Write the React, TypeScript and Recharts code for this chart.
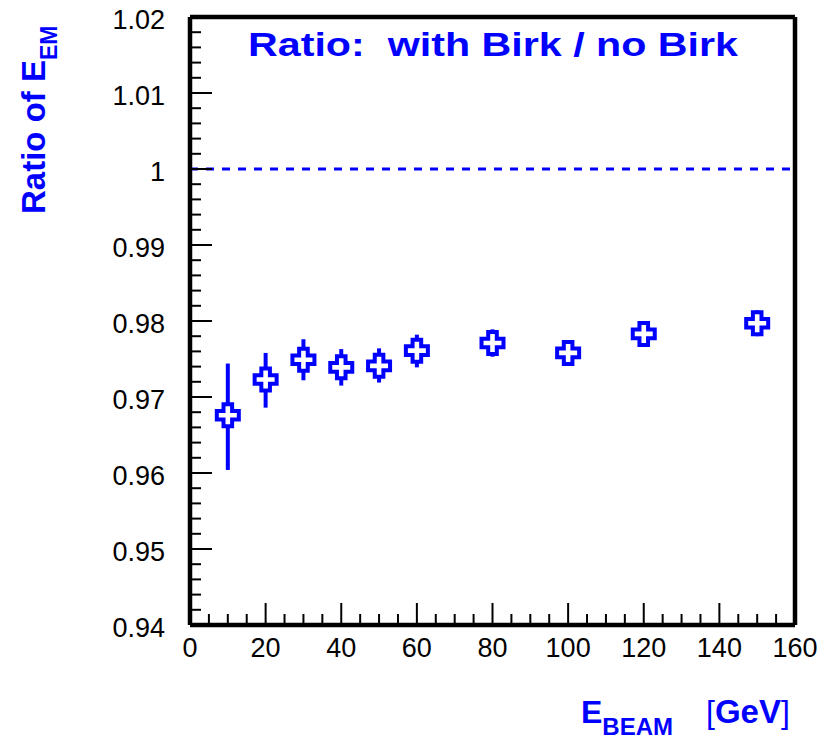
import React from 'react';
import { ScatterChart, Scatter, XAxis, YAxis, ErrorBar, ReferenceLine } from 'recharts';

const energies = [10, 20, 30, 40, 50, 60, 80, 100, 120, 150];
const ratios = [0.9676, 0.9723, 0.9749, 0.9739, 0.9741, 0.9761, 0.9771, 0.9758, 0.9783, 0.9797];
const errLow = [0.0072, 0.0037, 0.0027, 0.0024, 0.0022, 0.0022, 0.0018, 0.0017, 0.0017, 0.0017];
const errHigh = [0.0068, 0.0035, 0.0027, 0.0024, 0.0023, 0.0021, 0.0018, 0.0017, 0.0017, 0.0017];

const xTicks = Array.from({ length: 33 }, (_, i) => i * 5);
const yTicks = Array.from({ length: 41 }, (_, i) => +(0.94 + i * 0.002).toFixed(3));
const yLabels: Record<string, string> = {
  '0.94': '0.94', '0.95': '0.95', '0.96': '0.96', '0.97': '0.97', '0.98': '0.98',
  '0.99': '0.99', '1': '1', '1.01': '1.01', '1.02': '1.02',
};

const BLUE = '#0000ff';
const FONT = '"Liberation Sans", Arial, Helvetica, sans-serif';

const data = energies.map((e, i) => ({
  x: e,
  y: ratios[i],
  err: [errLow[i], errHigh[i]],
}));

const XTick = (props: any) => {
  const { x, y, payload } = props;
  const v = payload.value;
  const major = v % 20 === 0;
  return (
    <g>
      {v > 0 && v < 160 && (
        <line x1={x} x2={x} y1={y} y2={y - (major ? 22 : 11)} stroke="#000" strokeWidth={2} />
      )}
      {major && (
        <text x={x} y={y + 32} textAnchor="middle" fontSize={27} fontFamily={FONT} fill="#000">
          {v}
        </text>
      )}
    </g>
  );
};

const YTick = (props: any) => {
  const { x, y, payload } = props;
  const v = +payload.value.toFixed(3);
  const label = yLabels[String(v)];
  return (
    <g>
      {v > 0.94 && v < 1.02 && (
        <line x1={x} x2={x + (label ? 22 : 11)} y1={y} y2={y} stroke="#000" strokeWidth={2} />
      )}
      {label && (
        <text x={x - 25} y={y + 12} textAnchor="end" fontSize={27} fontFamily={FONT} fill="#000">
          {label}
        </text>
      )}
    </g>
  );
};

const Cross = (props: any) => {
  const { cx, cy } = props;
  const a = 11;
  const b = 4.3;
  const d = `M${cx - b},${cy - a}L${cx + b},${cy - a}L${cx + b},${cy - b}L${cx + a},${cy - b}L${cx + a},${cy + b}L${cx + b},${cy + b}L${cx + b},${cy + a}L${cx - b},${cy + a}L${cx - b},${cy + b}L${cx - a},${cy + b}L${cx - a},${cy - b}L${cx - b},${cy - b}Z`;
  return <path d={d} fill="#fff" stroke={BLUE} strokeWidth={4} />;
};

export default function App() {
  return (
    <div style={{ position: 'absolute', left: 0, top: 0, width: 826, height: 739, background: '#fff' }}>
      <ScatterChart width={826} height={739} margin={{ top: 17, right: 31, left: 0, bottom: 0 }}>
        <XAxis
          type="number"
          dataKey="x"
          domain={[0, 160]}
          ticks={xTicks}
          interval={0}
          allowDataOverflow
          height={114}
          tickSize={0}
          tickMargin={0}
          tickLine={false}
          axisLine={{ stroke: '#000', strokeWidth: 4.5 }}
          tick={XTick}
        />
        <YAxis
          type="number"
          dataKey="y"
          domain={[0.94, 1.02]}
          ticks={yTicks}
          interval={0}
          allowDataOverflow
          width={190}
          tickSize={0}
          tickMargin={0}
          tickLine={false}
          axisLine={{ stroke: '#000', strokeWidth: 4.5 }}
          tick={YTick}
        />
        <ReferenceLine y={1.02} stroke="#000" strokeWidth={4.5} />
        <ReferenceLine x={160} stroke="#000" strokeWidth={4.5} />
        <ReferenceLine y={1} stroke={BLUE} strokeWidth={3} strokeDasharray="8 8" />
        <Scatter data={data} shape={Cross} isAnimationActive={false}>
          <ErrorBar dataKey="err" direction="y" width={0} stroke={BLUE} strokeWidth={4} isAnimationActive={false} />
        </Scatter>
      </ScatterChart>
      <svg
        width={826}
        height={739}
        style={{ position: 'absolute', left: 0, top: 0, pointerEvents: 'none' }}
      >
        <text
          x={248}
          y={56}
          fontSize={34}
          fontWeight="bold"
          fontFamily={FONT}
          fill={BLUE}
          textLength={490}
          lengthAdjust="spacingAndGlyphs"
          style={{ whiteSpace: 'pre' }}
        >
          {'Ratio:  with Birk / no Birk'}
        </text>
        <text
          transform="translate(45,214) rotate(-90)"
          fontSize={33}
          fontWeight="bold"
          fontFamily={FONT}
          fill={BLUE}
        >
          Ratio of E
          <tspan fontSize={23} dy={12}>EM</tspan>
        </text>
        <text x={581} y={723} fontSize={32} fontWeight="bold" fontFamily={FONT} fill={BLUE}>
          E
          <tspan fontSize={24} dy={12}>BEAM</tspan>
        </text>
        <text x={706} y={723} fontSize={32} fontFamily={FONT} fill={BLUE}>
          [<tspan fontWeight="bold" fontSize={33}>GeV</tspan>]
        </text>
      </svg>
    </div>
  );
}
